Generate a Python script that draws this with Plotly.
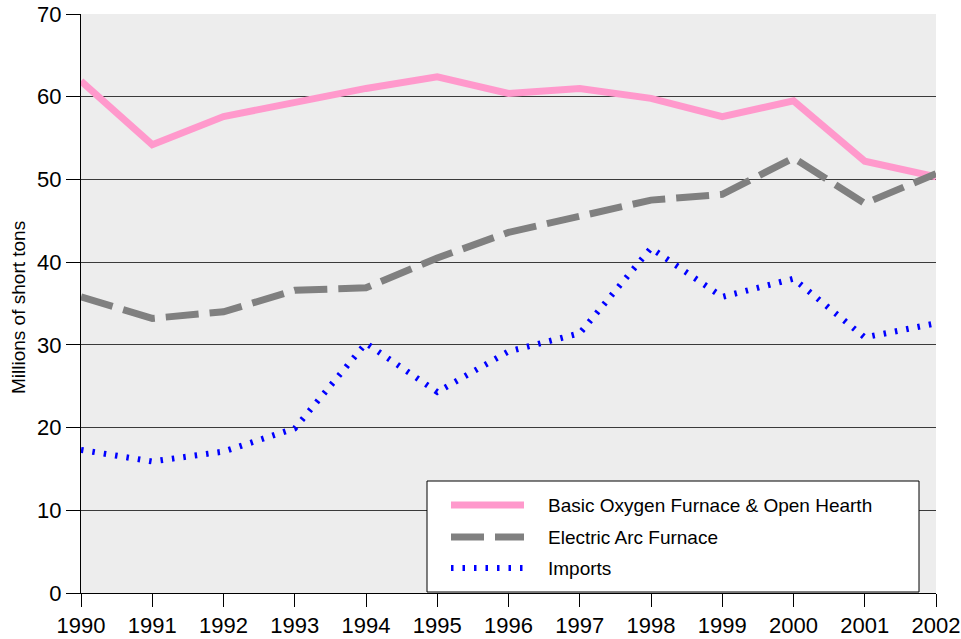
import plotly.graph_objects as go

years = list(range(1990, 2003))
bof = [61.9, 54.2, 57.6, 59.4, 61.0, 62.4, 60.4, 61.0, 59.8, 57.6, 59.5, 52.2, 50.3]
eaf = [35.8, 33.2, 34.0, 36.6, 36.9, 40.5, 43.6, 45.6, 47.5, 48.2, 52.6, 47.1, 50.7]
imports = [17.3, 15.9, 17.1, 19.9, 30.2, 24.3, 29.2, 31.4, 41.7, 35.8, 38.0, 30.9, 32.6]
names = ["Basic Oxygen Furnace & Open Hearth", "Electric Arc Furnace", "Imports"]
colors = ["#FF99CC", "#808080", "#0000FF"]
dashes = ["solid", "33px,11px", "2.5px,9px"]
widths = [7, 7, 6]
y_ticks = [0, 10, 20, 30, 40, 50, 60, 70]

W, H = 961, 639
L, R, T, B = 81, 936, 14, 593

fig = go.Figure()
for vals, n, c, d, w in zip([bof, eaf, imports], names, colors, dashes, widths):
    fig.add_trace(go.Scatter(x=years, y=vals, mode="lines", name=n,
                             line=dict(color=c, width=w, dash=d),
                             showlegend=False))

def px(x):
    return (x - L) / (R - L)

def py(y):
    return (B - y) / (B - T)

shapes = [dict(type="rect", xref="paper", yref="paper",
               x0=px(427), x1=px(919), y0=py(592), y1=py(481),
               fillcolor="white", line=dict(color="black", width=1), layer="above")]
annotations = []
rows = [505, 537, 568]
for n, c, d, w, ry in zip(names, colors, dashes, widths, rows):
    shapes.append(dict(type="line", xref="paper", yref="paper",
                       x0=px(451), x1=px(524), y0=py(ry), y1=py(ry),
                       line=dict(color=c, width=w, dash=d), layer="above"))
    annotations.append(dict(xref="paper", yref="paper", x=px(546), y=py(ry),
                            text=n, showarrow=False, xanchor="left", yanchor="middle",
                            font=dict(size=19, color="black", family="Liberation Sans, Arial")))

annotations.append(dict(xref="paper", yref="paper", x=(18 - L) / (R - L), y=py(308),
                        text="Millions of short tons", showarrow=False, textangle=-90,
                        xanchor="center", yanchor="middle",
                        font=dict(size=19, color="black", family="Liberation Sans, Arial")))

fig.update_layout(
    width=W, height=H,
    margin=dict(l=L, r=W - R, t=T, b=H - B, pad=0, autoexpand=False),
    paper_bgcolor="white", plot_bgcolor="#EDEDED",
    font=dict(family="Liberation Sans, Arial", color="black"),
    shapes=shapes, annotations=annotations,
    showlegend=False,
)
fig.update_xaxes(range=[1990, 2002], tickmode="array", tickvals=years,
                 ticktext=[str(y) for y in years], automargin=False,
                 ticklabeloverflow="allow",
                 showgrid=False, zeroline=False, showline=True, linecolor="black", linewidth=1,
                 ticks="outside", ticklen=13, tickcolor="black", tickwidth=1,
                 tickfont=dict(size=22, color="black"))
fig.update_yaxes(range=[0, 70], tickmode="array", tickvals=y_ticks, automargin=False,
                 showgrid=True, gridcolor="#3a3a3a", gridwidth=1, zeroline=False,
                 showline=True, linecolor="black", linewidth=1,
                 ticks="outside", ticklen=14, tickcolor="black", tickwidth=1,
                 tickfont=dict(size=22, color="black"))

fig.write_html("out.html", config={"displayModeBar": False},
               post_script="document.body.style.margin='0px';document.body.style.overflow='hidden';")
